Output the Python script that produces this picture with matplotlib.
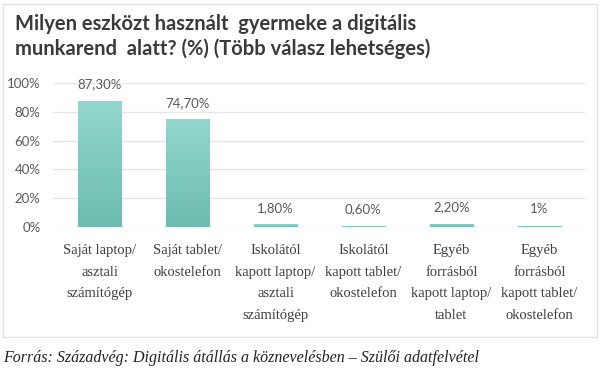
import matplotlib
matplotlib.use("Agg")
import matplotlib.pyplot as plt
import numpy as np
from matplotlib.colors import LinearSegmentedColormap
from matplotlib.patches import Rectangle

categories = [
    "Saját laptop/\nasztali\nszámítógép",
    "Saját tablet/\nokostelefon",
    "Iskolától\nkapott laptop/\nasztali\nszámítógép",
    "Iskolától\nkapott tablet/\nokostelefon",
    "Egyéb\nforrásból\nkapott laptop/\ntablet",
    "Egyéb\nforrásból\nkapott tablet/\nokostelefon",
]
values = [87.3, 74.7, 1.8, 0.6, 2.2, 1.0]
value_labels = ["87,30%", "74,70%", "1,80%", "0,60%", "2,20%", "1%"]
yticks = [0, 20, 40, 60, 80, 100]
ytick_labels = ["0%", "20%", "40%", "60%", "80%", "100%"]

title = "Milyen eszközt használt  gyermeke a digitális\nmunkarend  alatt? (%) (Több válasz lehetséges)"
source = "Forrás: Századvég: Digitális átállás a köznevelésben – Szülői adatfelvétel"

W, H = 600, 382
fig = plt.figure(figsize=(W / 100, H / 100), dpi=100)
fig.patch.set_facecolor("white")

# chart frame
fig.patches.append(Rectangle((3 / W, 1 - 337 / H), 594 / W, 333 / H,
                             transform=fig.transFigure, fill=False,
                             edgecolor="#e2e2e2", linewidth=1.0))

ax = fig.add_axes([53 / W, 1 - 227 / H, 532 / W, 144 / H])
x = np.arange(len(values))
bars = ax.bar(x, values, width=0.49, color="#80cbbf", zorder=2)

cmap = LinearSegmentedColormap.from_list("g", ["#6cbdb0", "#93d6cc"])
grad = np.linspace(0, 1, 256).reshape(-1, 1)
for b in bars:
    x0, w, h = b.get_x(), b.get_width(), b.get_height()
    im = ax.imshow(grad, extent=[x0, x0 + w, 0, h], origin="lower",
                   aspect="auto", cmap=cmap, zorder=3)
    im.set_clip_path(b)

ax.set_xlim(-0.528, 5.517)
ax.set_ylim(0, 100)

for xi, v, lab in zip(x, values, value_labels):
    ax.annotate(lab, (xi, v), xytext=(0, 12), textcoords="offset points",
                ha="center", va="center", fontsize=9.5, color="#595959",
                family="Lato", annotation_clip=False)

ax.set_yticks(yticks)
ax.set_yticklabels(ytick_labels, family="Lato", fontsize=9.5, color="#595959")
ax.set_xticks(x)
ax.set_xticklabels(categories, family="Liberation Serif", fontsize=10.5,
                   color="#404040", linespacing=1.85, va="top")
ax.tick_params(axis="both", length=0)
ax.tick_params(axis="y", pad=9)
ax.tick_params(axis="x", pad=12.5)
ax.grid(axis="y", color="#e6e6e6", linewidth=1.0, zorder=0)
ax.set_axisbelow(True)
for s in ax.spines.values():
    s.set_visible(False)

fig.text(15 / W, 1 - 14 / H, title, family="Lato", fontweight="bold",
         fontsize=14.5, color="#3a3a3a", ha="left", va="top", linespacing=1.25)

fig.text(3 / W, 1 - 358 / H, source, family="Liberation Serif", style="italic",
         fontsize=11.5, color="#222222", ha="left", va="center")

fig.savefig("out.png", dpi=100, facecolor="white")
